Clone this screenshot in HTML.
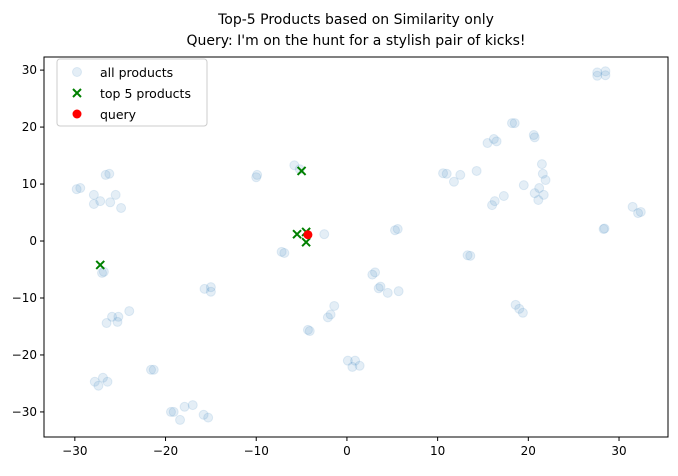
<!DOCTYPE html>
<html><head><meta charset="utf-8"><style>
body{margin:0;background:#fff;font-family:"Liberation Sans","DejaVu Sans",sans-serif}
</style></head><body>
<svg id="chart" width="678" height="471" viewBox="0 0 678 471" xmlns="http://www.w3.org/2000/svg" font-family="DejaVu Sans, Liberation Sans, sans-serif">
<rect width="678" height="471" fill="#fff"/>
<text x="356" y="24" text-anchor="middle" font-size="14">Top-5 Products based on Similarity only</text>
<text x="356" y="45" text-anchor="middle" font-size="14">Query: I'm on the hunt for a stylish pair of kicks!</text>
<g id="marks"></g>
<g id="axes"></g>
<g>
<rect x="57" y="59" width="150" height="67" rx="3" fill="#fff" fill-opacity="0.8" stroke="#ccc"/>
<circle cx="77" cy="72" r="4.5" fill="#1f77b4" fill-opacity="0.12" stroke="#1f77b4" stroke-opacity="0.12"/>
<text x="100" y="77" font-size="12.5">all products</text>
<path d="M73,89 l8,8 M81,89 l-8,8" stroke="green" stroke-width="2"/>
<text x="100" y="98" font-size="12.5">top 5 products</text>
<circle cx="77" cy="114" r="4.5" fill="red"/>
<text x="100" y="119" font-size="12.5">query</text>
</g>
</svg>
<script>
const allX=[-29.8,-29.4,-27.9,-27.9,-27.2,-26.6,-26.2,-26.1,-25.5,-24.9,-27.0,-26.8,-26.5,-25.9,-25.3,-25.2,-24.0,-27.8,-27.4,-26.9,-26.4,-21.6,-21.3,-19.4,-19.1,-18.4,-17.9,-17.0,-15.8,-15.3,-15.7,-15.0,-15.0,-10.0,-9.9,-7.2,-6.9,-5.8,-5.2,-2.5,-4.3,-4.1,-2.1,-1.8,-1.4,0.1,0.6,0.9,1.4,2.8,3.1,3.5,3.7,4.5,5.7,5.3,5.6,10.6,11.0,11.8,12.5,14.3,13.3,13.6,15.5,16.2,16.5,16.0,16.3,17.3,18.2,18.5,19.5,18.6,19.0,19.4,20.6,20.7,20.7,21.2,21.1,21.5,21.6,21.7,21.9,27.6,28.5,27.6,28.5,28.3,28.4,31.5,32.1,32.4];
const allY=[9.1,9.3,8.1,6.5,7.0,11.6,11.8,6.8,8.1,5.8,-5.6,-5.4,-14.4,-13.3,-14.2,-13.3,-12.3,-24.7,-25.4,-24.0,-24.7,-22.6,-22.6,-30.0,-30.0,-31.4,-29.1,-28.8,-30.5,-31.0,-8.4,-8.9,-8.1,11.2,11.6,-1.9,-2.1,13.3,12.6,1.2,-15.6,-15.8,-13.4,-12.9,-11.4,-21.0,-22.1,-21.0,-21.9,-5.9,-5.5,-8.3,-8.0,-9.1,-8.8,1.9,2.1,11.9,11.8,10.4,11.6,12.3,-2.5,-2.6,17.2,17.9,17.5,6.3,7.0,7.9,20.7,20.7,9.8,-11.2,-11.9,-12.6,18.6,18.2,8.4,9.3,7.2,13.5,11.8,8.1,10.7,29.6,29.8,29.0,29.1,2.1,2.2,6.0,4.9,5.1];
const topX=[-5.0,-5.5,-4.5,-4.5,-27.2];
const topY=[12.3,1.2,-0.2,1.6,-4.2];
const queryX=[-4.3];
const queryY=[1.1];
const xTicks=[-30,-20,-10,0,10,20,30];
const yTicks=[-30,-20,-10,0,10,20,30];
const L=44,R=668,T=57,B=437;
const x0=-33.4,x1=35.4,y0=-34.4,y1=32.3;
const sx=v=>L+(v-x0)/(x1-x0)*(R-L);
const sy=v=>B-(v-y0)/(y1-y0)*(B-T);
const NS="http://www.w3.org/2000/svg";
const marks=document.getElementById('marks'),axes=document.getElementById('axes');
function mk(tag,attrs,parent){const e=document.createElementNS(NS,tag);for(const k in attrs)e.setAttribute(k,attrs[k]);parent.appendChild(e);return e;}
allX.forEach((v,i)=>{const c=mk('circle',{cx:sx(v),cy:sy(allY[i]),r:4.5,fill:'#1f77b4','fill-opacity':0.12,stroke:'#1f77b4','stroke-opacity':0.12},marks);

});
topX.forEach((v,i)=>{const cx=sx(v),cy=sy(topY[i]);const p=mk('path',{d:`M${cx-4},${cy-4} l8,8 M${cx+4},${cy-4} l-8,8`,stroke:'green','stroke-width':2},marks);

});
queryX.forEach((v,i)=>{const c=mk('circle',{cx:sx(v),cy:sy(queryY[i]),r:4.5,fill:'red'},marks);

});
const frame=mk('rect',{x:L,y:T,width:R-L,height:B-T,fill:'none',stroke:'#000','stroke-width':1},axes);


xTicks.forEach(t=>{const x=sx(t);mk('line',{x1:x,x2:x,y1:B,y2:B+4,stroke:'#000'},axes);
const tx=mk('text',{x:x,y:B+18,'text-anchor':'middle','font-size':12},axes);tx.textContent=t<0?'\u2212'+(-t):t;

});
yTicks.forEach(t=>{const y=sy(t);mk('line',{x1:L-4,x2:L,y1:y,y2:y,stroke:'#000'},axes);
const tx=mk('text',{x:L-7,y:y+4,'text-anchor':'end','font-size':12},axes);tx.textContent=t<0?'\u2212'+(-t):t;

});
</script>
</body></html>
